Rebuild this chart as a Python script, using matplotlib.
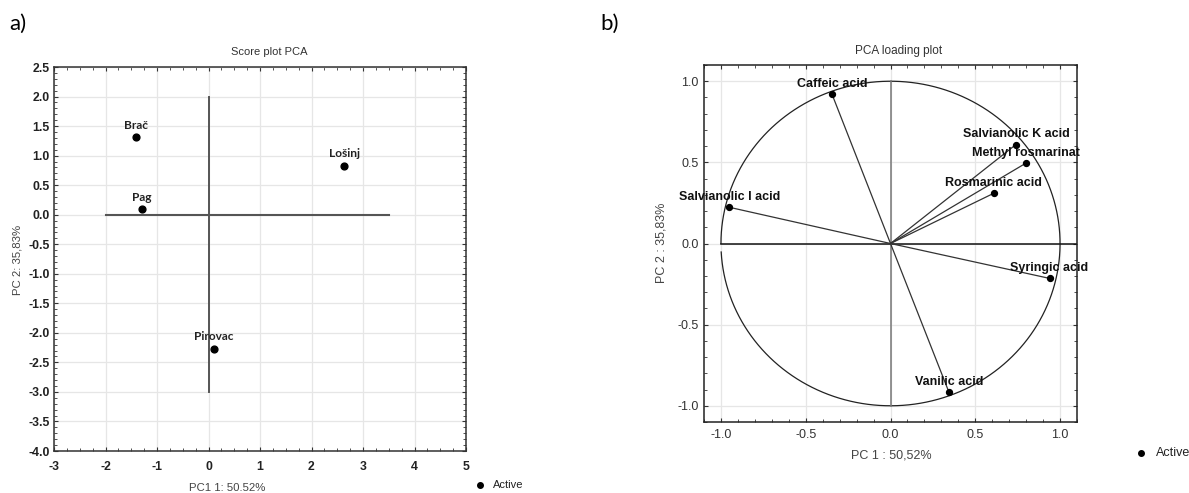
import numpy as np
import matplotlib
matplotlib.use("Agg")
import matplotlib.pyplot as plt
from matplotlib.ticker import MultipleLocator

# ---- data: score plot (panel a) ----
sites = ["Brač", "Pag", "Lošinj", "Pirovac"]
pc1_scores = [-1.40, -1.30, 2.64, 0.10]
pc2_scores = [1.31, 0.09, 0.83, -2.27]

# ---- data: loading plot (panel b) ----
compounds = ["Caffeic acid", "Salvianolic K acid", "Methyl rosmarinat", "Rosmarinic acid",
             "Salvianolic I acid", "Syringic acid", "Vanilic acid"]
pc1_load = [-0.345, 0.74, 0.80, 0.61, -0.95, 0.938, 0.345]
pc2_load = [0.92, 0.61, 0.496, 0.31, 0.223, -0.215, -0.917]

W, H = 1189, 493
fig = plt.figure(figsize=(W / 100, H / 100), dpi=100)
fig.patch.set_facecolor("white")

def fx(px):
    return px / W

def fy(py):
    return 1 - py / H

grid_col = "#e6e6e6"

# ================= Panel a =================
axa = fig.add_axes([fx(54), fy(451), fx(466) - fx(54), fy(67) - fy(451)])
axa.set_xlim(-3, 5)
axa.set_ylim(-4, 2.5)
axa.xaxis.set_major_locator(MultipleLocator(1))
axa.xaxis.set_minor_locator(MultipleLocator(0.25))
axa.yaxis.set_major_locator(MultipleLocator(0.5))
axa.yaxis.set_minor_locator(MultipleLocator(0.1))
axa.grid(True, which="major", color=grid_col, lw=0.9, zorder=0)
axa.set_axisbelow(True)
axa.tick_params(which="both", direction="in", top=True, right=True, color="#333333")
axa.tick_params(which="major", length=3, width=0.8)
axa.tick_params(which="minor", length=2, width=0.6)
axa.tick_params(axis="x", pad=7)
axa.tick_params(axis="y", pad=3)
axa.xaxis.set_major_formatter(matplotlib.ticker.FormatStrFormatter("%d"))
axa.yaxis.set_major_formatter(matplotlib.ticker.FormatStrFormatter("%.1f"))
for lab in axa.get_xticklabels() + axa.get_yticklabels():
    lab.set_fontfamily("Liberation Sans")
    lab.set_fontweight("bold")
    lab.set_fontsize(8.8)
    lab.set_color("#222222")
for s in axa.spines.values():
    s.set_color("#333333")
    s.set_linewidth(1.1)

axa.plot([-2, 3.5], [0, 0], color="#555555", lw=1.5, zorder=2)
axa.plot([0, 0], [-3, 2], color="#555555", lw=1.4, zorder=2)
axa.scatter(pc1_scores, pc2_scores, s=24, color="black", zorder=3)
for name, x, y in zip(sites, pc1_scores, pc2_scores):
    axa.annotate(name, (x, y), xytext=(0, 8.5), textcoords="offset points",
                 ha="center", va="center", fontsize=8.6, fontweight="bold",
                 family="Lato", color="#222222", zorder=4)

fig.text(fx(269), fy(52), "Score plot PCA", ha="center", va="center",
         fontsize=8, family="Liberation Sans", color="#333333")
fig.text(fx(227), fy(488), "PC1 1: 50.52%", ha="center", va="center",
         fontsize=8.2, family="Liberation Sans", color="#444444")
fig.text(fx(17), fy(260), "PC 2: 35,83%", ha="center", va="center", rotation=90,
         fontsize=8.2, family="Liberation Sans", color="#444444")
fig.text(fx(18), fy(24), "a)", ha="center", va="center", fontsize=16,
         family="Lato", color="black")
fig.lines.append(matplotlib.lines.Line2D([fx(480)], [fy(485)], marker="o", ms=4,
                                          color="black", transform=fig.transFigure))
fig.text(fx(493), fy(485), "Active", ha="left", va="center", fontsize=8,
         family="Liberation Sans", color="#222222")

# ================= Panel b =================
axb = fig.add_axes([fx(704), fy(422), fx(1077) - fx(704), fy(65) - fy(422)])
axb.set_xlim(-1.1, 1.1)
axb.set_ylim(-1.1, 1.1)
axb.xaxis.set_major_locator(MultipleLocator(0.5))
axb.xaxis.set_minor_locator(MultipleLocator(0.1))
axb.yaxis.set_major_locator(MultipleLocator(0.5))
axb.yaxis.set_minor_locator(MultipleLocator(0.1))
axb.grid(True, which="major", color=grid_col, lw=0.9, zorder=0)
axb.set_axisbelow(True)
axb.tick_params(which="both", direction="in", top=True, right=True, color="#333333")
axb.tick_params(which="major", length=3, width=0.8)
axb.tick_params(which="minor", length=2, width=0.6)
axb.tick_params(axis="x", pad=5)
axb.tick_params(axis="y", pad=4)
axb.xaxis.set_major_formatter(matplotlib.ticker.FormatStrFormatter("%.1f"))
axb.yaxis.set_major_formatter(matplotlib.ticker.FormatStrFormatter("%.1f"))
for lab in axb.get_xticklabels() + axb.get_yticklabels():
    lab.set_fontfamily("Liberation Sans")
    lab.set_fontsize(9)
    lab.set_color("#333333")
for s in axb.spines.values():
    s.set_color("#222222")
    s.set_linewidth(1.1)

# unit circle with a small gap just below the left end of the horizontal axis
theta = np.deg2rad(np.linspace(-177, 180, 721))
axb.plot(np.cos(theta), np.sin(theta), color="#222222", lw=0.9, zorder=2)
axb.plot([-1, 1.1], [0, 0], color="#111111", lw=1.1, zorder=2)
axb.plot([0, 0], [-1, 1], color="#777777", lw=1.1, zorder=2)
for x, y in zip(pc1_load, pc2_load):
    axb.plot([0, x], [0, y], color="#333333", lw=0.9, zorder=3)
axb.scatter(pc1_load, pc2_load, s=18, color="black", zorder=4)
for name, x, y in zip(compounds, pc1_load, pc2_load):
    axb.annotate(name, (x, y), xytext=(0, 7.5), textcoords="offset points",
                 ha="center", va="center", fontsize=9, fontweight="bold",
                 family="Liberation Sans", color="#111111", zorder=5)

fig.text(fx(899), fy(51), "PCA loading plot", ha="center", va="center",
         fontsize=8.5, family="Liberation Sans", color="#333333")
fig.text(fx(891), fy(455), "PC 1 : 50,52%", ha="center", va="center",
         fontsize=9, family="Liberation Sans", color="#444444")
fig.text(fx(662), fy(243), "PC 2 : 35,83%", ha="center", va="center", rotation=90,
         fontsize=9, family="Liberation Sans", color="#444444")
fig.text(fx(610), fy(24), "b)", ha="center", va="center", fontsize=16,
         family="Lato", color="black")
fig.lines.append(matplotlib.lines.Line2D([fx(1141)], [fy(453)], marker="o", ms=4,
                                          color="black", transform=fig.transFigure))
fig.text(fx(1156), fy(453), "Active", ha="left", va="center", fontsize=9,
         family="Liberation Sans", color="#222222")

fig.savefig("out.png", dpi=100, facecolor="white")
